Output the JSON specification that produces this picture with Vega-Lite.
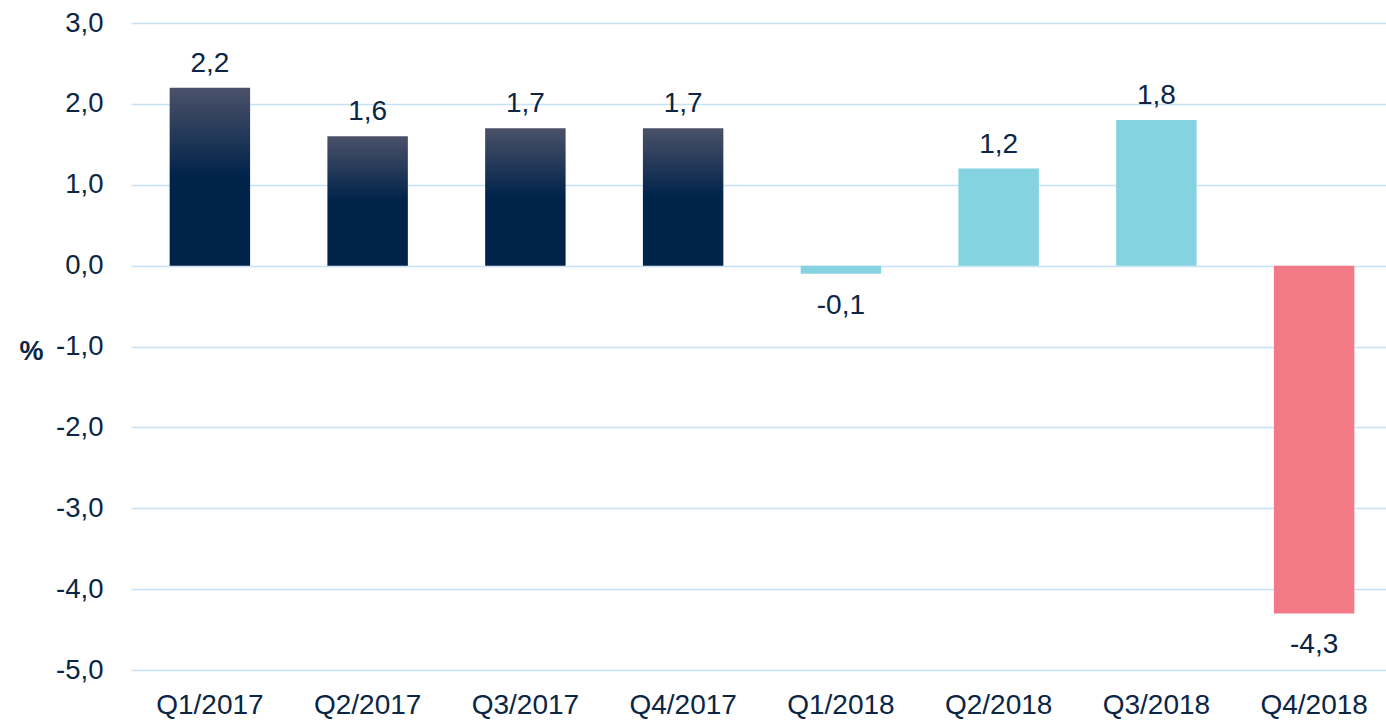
{
  "$schema": "https://vega.github.io/schema/vega-lite/v6.json",
  "autosize": "none",
  "width": 1262,
  "height": 647,
  "padding": {"left": 131, "top": 23, "right": 0, "bottom": 51},
  "background": "white",
  "config": {
    "view": {"stroke": null},
    "font": "Liberation Sans",
    "locale": {"number": {"decimal": ",", "thousands": ".", "grouping": [3], "currency": ["", " €"], "minus": "-"}}
  },
  "data": {"values": [
    {"quarter": "Q1/2017", "value": 2.2, "kind": "hist"},
    {"quarter": "Q2/2017", "value": 1.6, "kind": "hist"},
    {"quarter": "Q3/2017", "value": 1.7, "kind": "hist"},
    {"quarter": "Q4/2017", "value": 1.7, "kind": "hist"},
    {"quarter": "Q1/2018", "value": -0.1, "kind": "cur"},
    {"quarter": "Q2/2018", "value": 1.2, "kind": "cur"},
    {"quarter": "Q3/2018", "value": 1.8, "kind": "cur"},
    {"quarter": "Q4/2018", "value": -4.3, "kind": "neg"}
  ]},
  "encoding": {
    "x": {"field": "quarter", "type": "nominal", "sort": null,
      "scale": {"paddingInner": 0.49, "paddingOuter": 0.245},
      "axis": {"title": null, "labelAngle": 0, "ticks": false, "domain": false, "labelFontSize": 28, "labelColor": "#0b2545", "labelPadding": 21, "labelFont": "Liberation Sans"}},
    "y": {"field": "value", "type": "quantitative",
      "scale": {"domain": [-5, 3], "nice": false, "zero": false},
      "axis": {"title": "%", "titleAngle": 0, "titleFontWeight": "bold", "titleFontSize": 27, "titleColor": "#0b2545", "titleAlign": "right", "titleBaseline": "middle", "titleX": -88, "titleY": 328,
        "values": [3, 2, 1, 0, -1, -2, -3, -4, -5], "format": ".1f", "labelFontSize": 27.5, "labelColor": "#0b2545", "labelPadding": 28,
        "ticks": false, "domain": false, "gridColor": "#c6e2f6", "gridWidth": 1.5}}
  },
  "layer": [
    {
      "mark": {"type": "bar"},
      "encoding": {
        "fill": {
          "condition": {"test": "datum.kind === 'hist'", "value": {"gradient": "linear", "x1": 0, "y1": 0, "x2": 0, "y2": 1, "stops": [{"offset": 0, "color": "#4b5169"}, {"offset": 0.5, "color": "#00234a"}, {"offset": 1, "color": "#00234a"}]}},
          "field": "kind", "type": "nominal",
          "scale": {"domain": ["hist", "cur", "neg"], "range": ["#00234a", "#85d3e0", "#f27a87"]},
          "legend": null
        }
      }
    },
    {
      "transform": [{"filter": "datum.value >= 0"}],
      "mark": {"type": "text", "baseline": "alphabetic", "dy": -16, "fontSize": 28, "color": "#0b2545"},
      "encoding": {"text": {"field": "value", "type": "quantitative", "format": ".1f"}}
    },
    {
      "transform": [{"filter": "datum.value < 0"}],
      "mark": {"type": "text", "baseline": "alphabetic", "dy": 40, "fontSize": 28, "color": "#0b2545"},
      "encoding": {"text": {"field": "value", "type": "quantitative", "format": ".1f"}}
    }
  ]
}
